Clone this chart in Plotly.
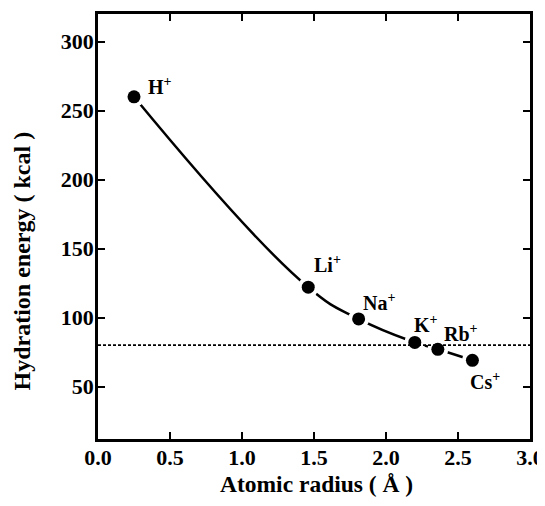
import plotly.graph_objects as go

# ---- data ----
ions = ["H", "Li", "Na", "K", "Rb", "Cs"]
radius = [0.25, 1.46, 1.81, 2.20, 2.36, 2.60]
energy = [260, 122, 99, 82, 77, 69]
ref_level = 80
x_ticks = [0.0, 0.5, 1.0, 1.5, 2.0, 2.5, 3.0]
x_ticklabels = ["0.0", "0.5", "1.0", "1.5", "2.0", "2.5", "3.0"]
y_ticks = [50, 100, 150, 200, 250, 300]
y_ticklabels = ["50", "100", "150", "200", "250", "300"]
x_range = [0.0, 3.0]
y_range = [12, 320]

# label offsets in pixels (xshift, yshift) relative to each point
label_offsets = [(12, -3), (4, 9), (2, 3), (-3, 4), (4, 2), (-4, -35)]

FONT = "Liberation Serif"

fig = go.Figure()

# smooth curve through the points
fig.add_trace(go.Scatter(x=radius, y=energy, mode="lines",
                         line=dict(color="black", width=2.5, shape="spline", smoothing=1.3),
                         hoverinfo="skip", showlegend=False))
# white halos that create gaps around markers
fig.add_trace(go.Scatter(x=radius, y=energy, mode="markers",
                         marker=dict(color="white", size=21),
                         hoverinfo="skip", showlegend=False))
# dotted reference line
fig.add_trace(go.Scatter(x=x_range, y=[ref_level, ref_level], mode="lines",
                         line=dict(color="black", width=1.6, dash="3px,2px"),
                         hoverinfo="skip", showlegend=False))
# markers
fig.add_trace(go.Scatter(x=radius, y=energy, mode="markers",
                         marker=dict(color="black", size=13),
                         showlegend=False))

for ion, xv, yv, (dx, dy) in zip(ions, radius, energy, label_offsets):
    fig.add_annotation(x=xv, y=yv, xref="x", yref="y", showarrow=False,
                       text=f"{ion}<sup>+</sup>", xanchor="left", yanchor="bottom",
                       xshift=dx, yshift=dy,
                       font=dict(family=FONT, size=20, color="black", weight="bold"))

# axis titles as annotations for exact placement
fig.add_annotation(x=0.506, y=-0.106, xref="paper", yref="paper", showarrow=False,
                   text="Atomic radius ( Å )", xanchor="center", yanchor="middle",
                   font=dict(family=FONT, size=23.5, color="black", weight="bold"))
fig.add_annotation(x=-0.176, y=0.42, xref="paper", yref="paper", showarrow=False,
                   text="Hydration energy ( kcal )", textangle=-90,
                   xanchor="center", yanchor="middle",
                   font=dict(family=FONT, size=24, color="black", weight="bold"))

axis_common = dict(showgrid=False, zeroline=False, showline=True, linecolor="black",
                   linewidth=2.5, mirror="ticks", ticks="inside", ticklen=7,
                   tickwidth=2, tickcolor="black", automargin=False,
                   tickfont=dict(family=FONT, size=22, color="black", weight="bold"))

fig.update_xaxes(range=x_range, tickvals=x_ticks, ticktext=x_ticklabels,
                 ticklabelstandoff=-3, **axis_common)
fig.update_yaxes(range=y_range, tickvals=y_ticks, ticktext=y_ticklabels,
                 ticklabelstandoff=-3, **axis_common)

# the page body adds an 8px margin, so the figure is sized/offset to compensate
fig.update_layout(width=537, height=490,
                  margin=dict(l=90, r=15, t=6, b=59),
                  paper_bgcolor="white", plot_bgcolor="white")

fig.write_html("out.html")
